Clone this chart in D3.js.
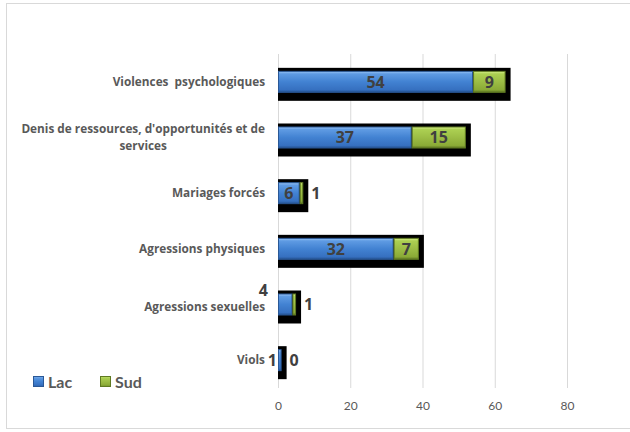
<!DOCTYPE html>
<html><head><meta charset="utf-8">
<script src="https://cdn.jsdelivr.net/npm/d3@7"></script>
<style>
body{margin:0;background:#fff;}
svg{display:block;font-family:Lato,"Open Sans",sans-serif;}
</style></head>
<body>
<svg id="chart" width="630" height="432"></svg>
<script>
const categories = ["Violences  psychologiques", "Denis de ressources, d'opportunités et de|services", "Mariages forcés", "Agressions physiques", "Agressions sexuelles", "Viols"];
const lac = [54, 37, 6, 32, 4, 1];
const sud = [9, 15, 1, 7, 1, 0];
const seriesNames = ["Lac", "Sud"];
const xTicks = [0, 20, 40, 60, 80];

const svg = d3.select("#chart");
const defs = svg.append("defs");
function grad(id, stops){
  const g = defs.append("linearGradient").attr("id", id).attr("x1",0).attr("y1",0).attr("x2",0).attr("y2",1);
  stops.forEach(s => g.append("stop").attr("offset", s[0]).attr("stop-color", s[1]));
}
grad("gBlue", [[0,"#9cc6f7"],[0.12,"#5f9be3"],[0.5,"#4282d2"],[0.88,"#3670c0"],[1,"#23508e"]]);
grad("gGreen", [[0,"#d8f08e"],[0.12,"#acd052"],[0.5,"#9cbd45"],[0.88,"#8aaa36"],[1,"#5c7422"]]);
const fills = ["url(#gBlue)", "url(#gGreen)"];
const strokes = ["#2a5896", "#5f7a22"];

// frame
svg.append("rect").attr("x",6.5).attr("y",3.5).attr("width",640).attr("height",425)
  .attr("fill","none").attr("stroke","#d9d9d9");

const x = d3.scaleLinear().domain([0, 80]).range([278, 567]);
const y = d3.scaleBand().domain(categories).range([54, 388]).paddingInner(0.605).paddingOuter(0.3025);
const bh = y.bandwidth();

// grid
svg.append("g").selectAll("line").data(xTicks).join("line")
  .attr("x1", d => x(d) + 0.5).attr("x2", d => x(d) + 0.5)
  .attr("y1", 54).attr("y2", 388)
  .attr("stroke", "#d9d9d9").attr("stroke-width", 1);

// axis labels
const xAxis = d3.axisBottom(x).tickValues(xTicks).tickSize(0).tickPadding(0);
const ax = svg.append("g").attr("transform", "translate(0,401)").call(xAxis);
ax.select(".domain").remove();
ax.selectAll("text").attr("fill", "#595959").style("font-size", "12px")
  .style("font-family", "Lato,'Open Sans',sans-serif");

const rows = categories.map((c, i) => ({c, vals: [lac[i], sud[i]]}));

// shadows
svg.append("g").selectAll("rect").data(rows).join("rect")
  .attr("x", x(0))
  .attr("y", d => y(d.c) - 3)
  .attr("width", d => x(d.vals[0] + d.vals[1]) - x(0) + 5)
  .attr("height", bh + 11)
  .attr("fill", "#000");

// segments
rows.forEach(r => {
  let acc = 0;
  r.vals.forEach((v, k) => {
    if (v > 0) {
      const x0 = x(acc), x1 = x(acc + v);
      svg.append("rect").attr("x", x0 + 0.5).attr("y", y(r.c) + 0.5)
        .attr("width", Math.max(0, x1 - x0 - 1)).attr("height", bh - 1)
        .attr("fill", fills[k]).attr("stroke", strokes[k]).attr("stroke-width", 1);
    }
    acc += v;
  });
});

// value labels
const valStyle = sel => sel.attr("fill", "#404040").style("font-size", "16px").style("font-weight", "bold")
  .style("font-family", "'Open Sans',Lato,sans-serif");
rows.forEach(r => {
  const cy = y(r.c) + bh / 2;
  const total = r.vals[0] + r.vals[1];
  let acc = 0;
  r.vals.forEach((v, k) => {
    const w = x(acc + v) - x(acc);
    let tx, ty = cy, anchor = "middle";
    if (w >= 16) { tx = x(acc + v / 2); }
    else if (k === 1) { tx = x(total) + 8; anchor = "start"; }
    else if (v >= 3) { tx = x(0) - 10; ty = cy - 14; anchor = "end"; }
    else { tx = x(0) - 1; anchor = "end"; }
    svg.append("text").attr("x", tx).attr("y", ty).attr("dy", "0.36em")
      .attr("text-anchor", anchor).text(v).call(valStyle);
    acc += v;
  });
});

// category labels
const catG = svg.append("g").style("font-family", "'Open Sans',Lato,sans-serif");
const catX = 265;
const catSize = "11.8px";
categories.forEach(c => {
  const lines = c.split("|");
  const cy = y(c) + bh / 2;
  const t = catG.append("text").attr("fill", "#595959").style("font-size", catSize)
    .style("font-weight", "bold").style("white-space", "pre");
  if (lines.length === 1) {
    t.attr("x", catX).attr("y", cy + (c === "Agressions sexuelles" ? 2.5 : 0)).attr("dy", "0.35em").attr("text-anchor", "end").text(c);
  } else {
    t.attr("text-anchor", "end").attr("x", catX).attr("y", cy - 8.5).attr("dy", "0.35em").text(lines[0]);
    const w = t.node().getComputedTextLength();
    catG.append("text").attr("fill", "#595959").style("font-size", catSize).style("font-weight", "bold")
      .attr("text-anchor", "middle").attr("x", catX - w / 2).attr("y", cy + 8.5).attr("dy", "0.35em").text(lines[1]);
  }
});

// legend
const leg = svg.append("g").attr("transform", "translate(33,376)");
seriesNames.forEach((n, k) => {
  const g = leg.append("g").attr("transform", `translate(${k * 67},0)`);
  g.append("rect").attr("x", 0.5).attr("y", 0.5).attr("width", 10).attr("height", 10)
    .attr("fill", fills[k]).attr("stroke", strokes[k]);
  g.append("text").attr("x", 15).attr("y", 11.5).attr("fill", "#595959")
    .style("font-size", "16px").style("font-weight", "bold").text(n);
});
</script>
</body></html>
